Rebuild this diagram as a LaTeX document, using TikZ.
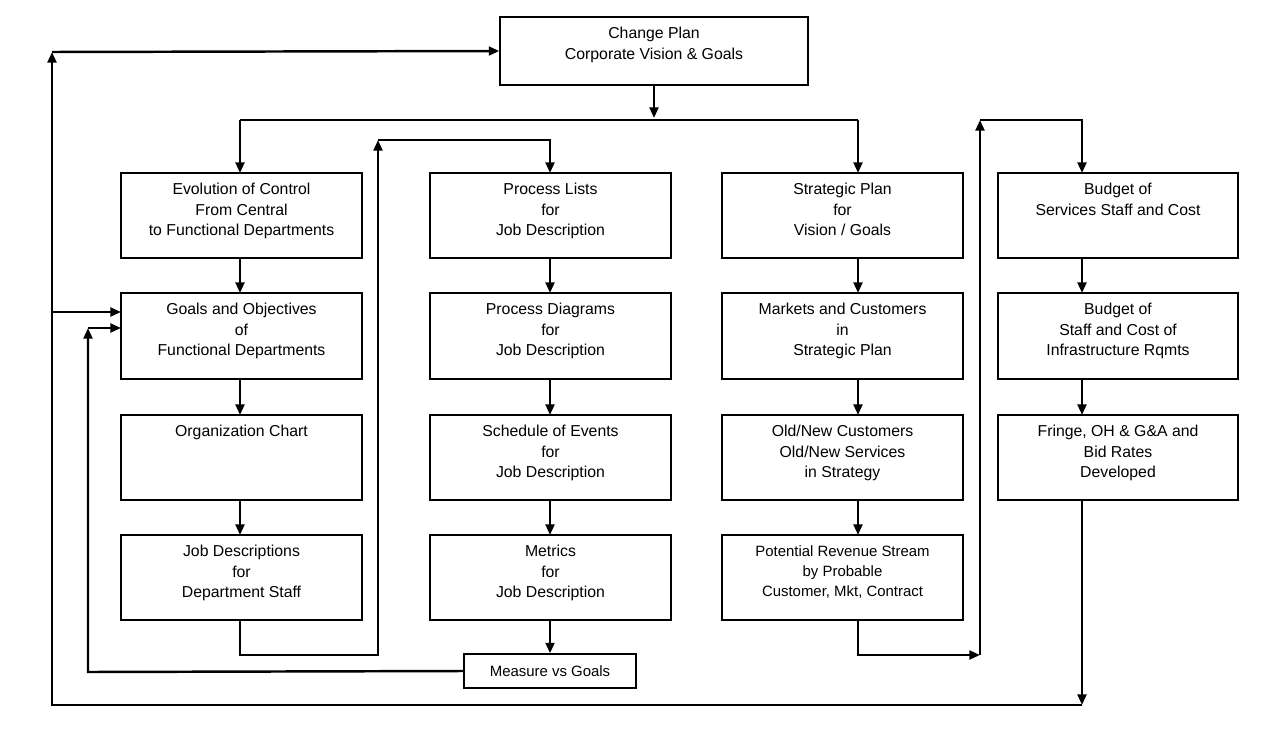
\documentclass[tikz,border=0pt]{standalone}
\usepackage{fontspec}
\setmainfont{Liberation Sans}
\usetikzlibrary{arrows.meta}
\begin{document}
\begin{tikzpicture}[x=0.02cm,y=-0.02cm,
  boxst/.style={draw,line width=0.8pt,inner sep=0pt},
  txt/.style={anchor=north,align=center,font=\fontsize{9}{11.5}\selectfont,inner sep=0pt},
  conn/.style={line width=1.4pt,-{Triangle[length=6pt,width=5pt]}}]
\useasboundingbox (0,0) rectangle (1277,743);
\newcommand\bx[6]{\node[boxst,minimum width={(#4-#2)*0.02cm},minimum height={(#5-#3)*0.02cm}] (#1) at ({(#2+#4)/2},{(#3+#5)/2}) {};
 \node[txt] (#1t) at ({(#2+#4)/2},{#3+10}) {#6};}
\bx{top}{500}{17}{808}{85}{Change Plan\\Corporate Vision \& Goals}
\bx{a1}{121}{173}{362}{258}{Evolution of Control\\From Central\\to Functional Departments}
\bx{a2}{121}{293}{362}{379}{Goals and Objectives\\of\\Functional Departments}
\bx{a3}{121}{415}{362}{500}{Organization Chart}
\bx{a4}{121}{535}{362}{620}{Job Descriptions\\for\\Department Staff}
\bx{b1}{430}{173}{671}{258}{Process Lists\\for\\Job Description}
\bx{b2}{430}{293}{671}{379}{Process Diagrams\\for\\Job Description}
\bx{b3}{430}{415}{671}{500}{Schedule of Events\\for\\Job Description}
\bx{b4}{430}{535}{671}{620}{Metrics\\for\\Job Description}
\bx{c1}{722}{173}{963}{258}{Strategic Plan\\for\\Vision / Goals}
\bx{c2}{722}{293}{963}{379}{Markets and Customers\\in\\Strategic Plan}
\bx{c3}{722}{415}{963}{500}{Old/New Customers\\Old/New Services\\in Strategy}
\bx{c4}{722}{535}{963}{620}{\fontsize{8.5}{10}\selectfont Potential Revenue Stream\\\fontsize{8.5}{10}\selectfont by Probable\\\fontsize{8.5}{10}\selectfont Customer, Mkt, Contract}
\bx{d1}{998}{173}{1238}{258}{Budget of\\Services Staff and Cost}
\bx{d2}{998}{293}{1238}{379}{Budget of\\Staff and Cost of\\Infrastructure Rqmts}
\bx{d3}{998}{415}{1238}{500}{Fringe, OH \& G\&A and\\Bid Rates\\Developed}
\node[boxst,minimum width={172*0.02cm},minimum height={34*0.02cm},font=\fontsize{8.5}{10}\selectfont] (m) at (550,671) {Measure vs Goals};
% top distribution
\draw[conn] (654,85) -- (654,118);
\draw[line width=1.4pt] (240,120) -- (858,120);
\draw[conn] (240,120) -- (240,173);
\draw[conn] (858,120) -- (858,173);
% column arrows
\foreach \x in {240,550,858,1082}{
  \draw[conn] (\x,258) -- (\x,293);
  \draw[conn] (\x,379) -- (\x,415);}
\foreach \x in {240,550,858}
  \draw[conn] (\x,500) -- (\x,535);
% col1 -> col2
\draw[conn] (240,620) -- (240,655) -- (378,655) -- (378,140);
\draw[conn] (378,140) -- (550,140) -- (550,173);
\draw[conn] (550,620) -- (m.north);
% measure -> goals
\draw[conn] (m.west) -- (88,672) -- (88,328);
\draw[conn] (88,328) -- (121,328);
% col3 -> col4
\draw[conn] (858,620) -- (858,655) -- (980,655);
\draw[conn] (980,655) -- (980,120);
\draw[conn] (980,120) -- (1082,120) -- (1082,173);
% col4 -> top
\draw[conn] (1082,500) -- (1082,705);
\draw[conn] (1082,705) -- (52,705) -- (52,52);
\draw[conn] (52,52) -- (top.west);
\draw[conn] (52,312) -- (121,312);
\end{tikzpicture}
\end{document}
